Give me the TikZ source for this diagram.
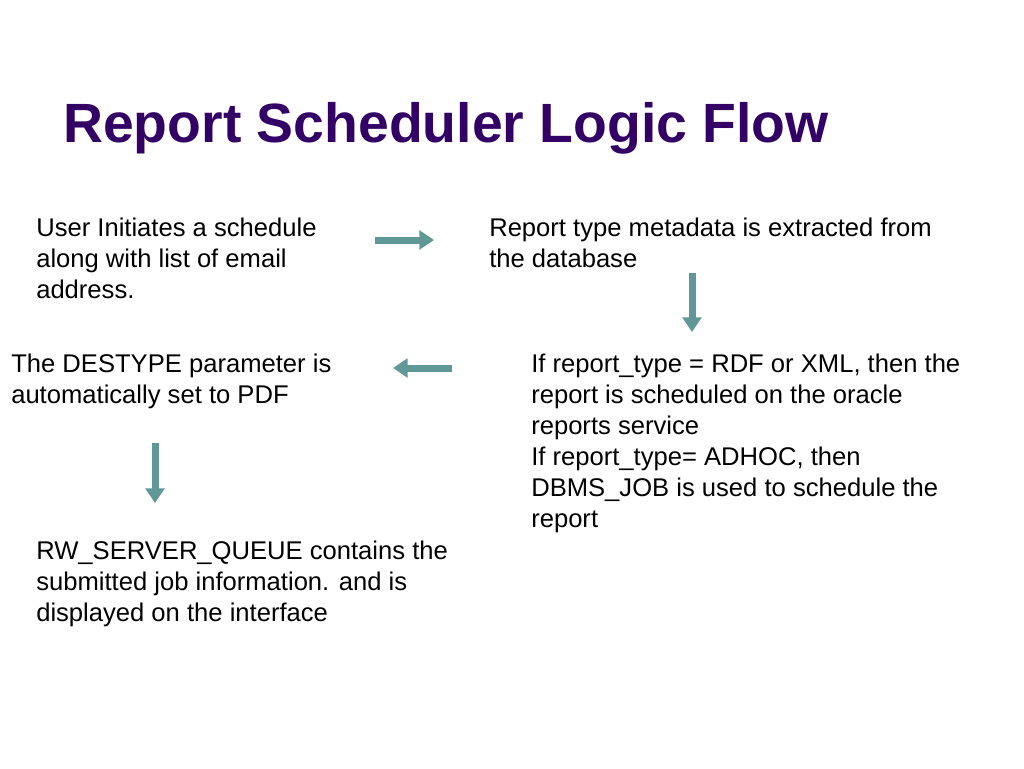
\documentclass[tikz,border=0pt]{standalone}
\usepackage{fontspec}
\setmainfont{Liberation Sans}
\usetikzlibrary{arrows.meta}
\definecolor{titlecol}{RGB}{51,0,102}
\definecolor{arrowcol}{RGB}{96,152,152}
\begin{document}
\begin{tikzpicture}[x=0.75pt,y=-0.75pt,
  body/.style={anchor=base west,inner sep=0pt,align=left,font=\fontsize{19.2pt}{23.25pt}\selectfont},
  flowarrow/.style={draw=arrowcol,line width=5.25pt,-{Triangle[width=14pt,length=11pt]},shorten <=0pt}]
\useasboundingbox[fill=white] (0,0) rectangle (1024,768);
\node[anchor=base west,inner sep=0pt,text=titlecol,font=\fontsize{41.5pt}{48pt}\selectfont\bfseries] (title) at (63,142) {Report Scheduler Logic Flow};
\node[body] (a) at (36,298) {User Initiates a schedule\\along with list of email\\address.};
\node[body] (b) at (489,267) {Report type metadata is extracted from\\the database};
\node[body] (c) at (11,403) {The DESTYPE parameter is\\automatically set to PDF};
\node[body] (d) at (531,527) {If report\_type = RDF or XML, then the\\report is scheduled on the oracle\\reports service\\If report\_type= ADHOC, then\\DBMS\_JOB is used to schedule the\\report};
\node[body] (e) at (36,621) {RW\_SERVER\_QUEUE contains the\\submitted job information. and is\\displayed on the interface};
\coordinate (a1s) at (375,240);
\coordinate (a1e) at (434,240);
\coordinate (a2s) at (692,273);
\coordinate (a2e) at (692,332);
\coordinate (a3s) at (452,368);
\coordinate (a3e) at (393,368);
\coordinate (a4s) at (155,443);
\coordinate (a4e) at (155,503);
\draw[flowarrow] (a1s) -- (a1e);
\draw[flowarrow] (a2s) -- (a2e);
\draw[flowarrow] (a3s) -- (a3e);
\draw[flowarrow] (a4s) -- (a4e);
\end{tikzpicture}
\end{document}
